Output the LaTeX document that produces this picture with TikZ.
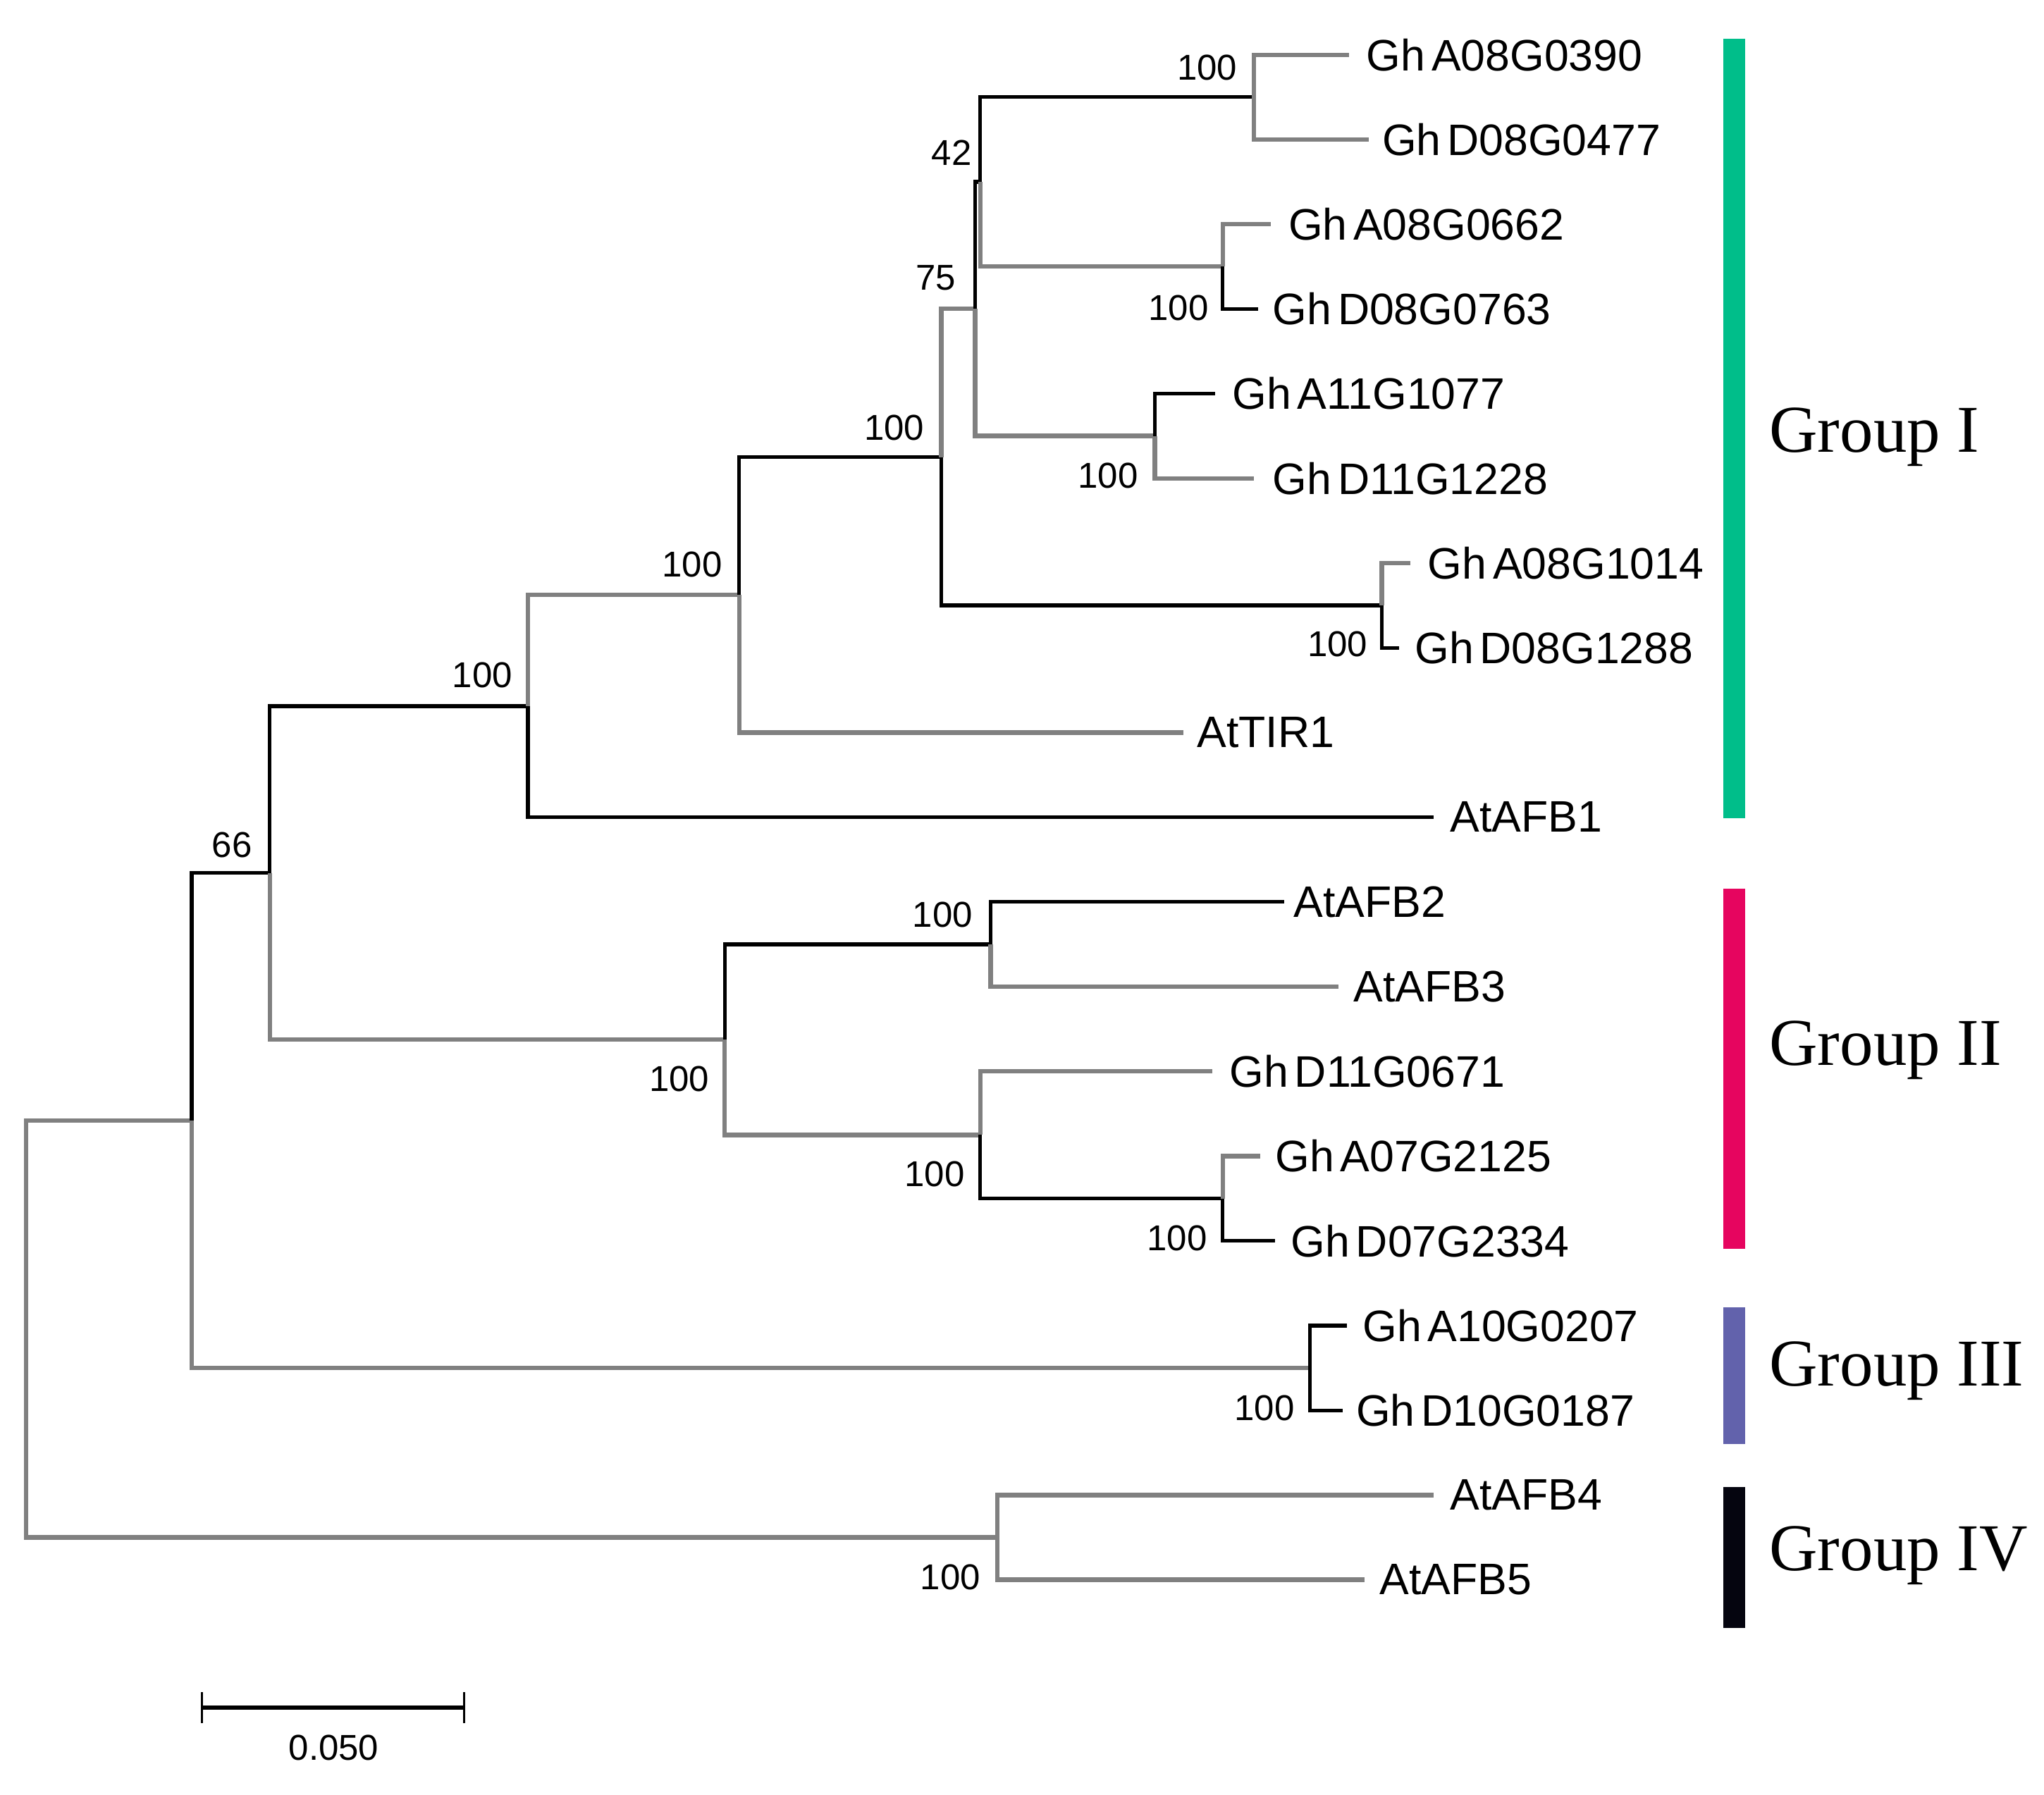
\documentclass[tikz,border=0pt]{standalone}
\usepackage{fontspec}
\setmainfont{Liberation Serif}
\newfontfamily\arialf{Liberation Sans}
\definecolor{gI}{RGB}{0,190,138}
\definecolor{gII}{RGB}{230,5,95}
\definecolor{gIII}{RGB}{98,98,172}
\definecolor{gIV}{RGB}{5,5,15}
\definecolor{brgray}{RGB}{128,128,128}
\newcommand\ghname[1]{Gh\kern0.14em #1}
\begin{document}
\begin{tikzpicture}[x=0.18495mm,y=-0.18495mm,
  blk/.style={draw=black,line width=1.5pt},
  gry/.style={draw=brgray,line width=1.8pt},
  leaf/.style={anchor=west,inner sep=0pt,font=\arialf\fontsize{17.8}{20}\selectfont},
  boot/.style={inner sep=0pt,font=\arialf\fontsize{14.5}{16}\selectfont},
  grp/.style={anchor=base west,inner sep=0pt,font=\fontsize{27}{30}\selectfont}]
\useasboundingbox (0,0) rectangle (1568,1377);

% internal nodes
\coordinate (root) at (20,1019.5);
\coordinate (nA) at (147,859.6);
\coordinate (nB) at (207,669.7);
\coordinate (nC) at (405,541.7);
\coordinate (nD) at (567,456.4);
\coordinate (nE) at (722,350.75);
\coordinate (n75) at (748,237);
\coordinate (n42) at (752,139.5);
\coordinate (n01) at (962,74.5);
\coordinate (n23) at (938,204.5);
\coordinate (n45) at (886,334.5);
\coordinate (n67) at (1060,464.5);
\coordinate (nG2) at (556,797.6);
\coordinate (n1011) at (760,724.5);
\coordinate (n12) at (752,870.75);
\coordinate (n1314) at (938,919.5);
\coordinate (n1516) at (1005,1049.5);
\coordinate (n1718) at (765,1179.5);

% leaf tips
\coordinate (t0) at (1035,42);
\coordinate (t1) at (1050,107);
\coordinate (t2) at (975,172);
\coordinate (t3) at (965,237);
\coordinate (t4) at (932,302);
\coordinate (t5) at (962,367);
\coordinate (t6) at (1082,432);
\coordinate (t7) at (1073,497);
\coordinate (t8) at (908,562);
\coordinate (t9) at (1100,627);
\coordinate (t10) at (985,692);
\coordinate (t11) at (1027,757);
\coordinate (t12) at (930,822);
\coordinate (t13) at (967,887);
\coordinate (t14) at (978,952);
\coordinate (t15) at (1033,1017);
\coordinate (t16) at (1030,1082);
\coordinate (t17) at (1100,1147);
\coordinate (t18) at (1047,1212);

% leaf labels
\node[leaf] (L0) at (1048,42) {\ghname{A08G0390}};
\node[leaf] (L1) at (1060,107) {\ghname{D08G0477}};
\node[leaf] (L2) at (988,172) {\ghname{A08G0662}};
\node[leaf] (L3) at (976,237) {\ghname{D08G0763}};
\node[leaf] (L4) at (945,302) {\ghname{A11G1077}};
\node[leaf] (L5) at (976,367) {\ghname{D11G1228}};
\node[leaf] (L6) at (1095,432) {\ghname{A08G1014}};
\node[leaf] (L7) at (1085,497) {\ghname{D08G1288}};
\node[leaf] (L8) at (918,562) {AtTIR1};
\node[leaf] (L9) at (1112,627) {AtAFB1};
\node[leaf] (L10) at (992,692) {AtAFB2};
\node[leaf] (L11) at (1038,757) {AtAFB3};
\node[leaf] (L12) at (943,822) {\ghname{D11G0671}};
\node[leaf] (L13) at (978,887) {\ghname{A07G2125}};
\node[leaf] (L14) at (990,952) {\ghname{D07G2334}};
\node[leaf] (L15) at (1045,1017) {\ghname{A10G0207}};
\node[leaf] (L16) at (1040,1082) {\ghname{D10G0187}};
\node[leaf] (L17) at (1112,1147) {AtAFB4};
\node[leaf] (L18) at (1058,1212) {AtAFB5};

% branches
\draw[gry] (root) |- (nA);
\draw[gry] (root) |- (n1718);
\draw[blk] (nA) |- (nB);
\draw[gry] (nA) |- (n1516);
\draw[blk] (nB) |- (nC);
\draw[gry] (nB) |- (nG2);
\draw[gry] (nC) |- (nD);
\draw[blk] (nC) |- (t9);
\draw[blk] (nD) |- (nE);
\draw[gry] (nD) |- (t8);
\draw[gry] (nE) |- (n75);
\draw[blk] (nE) |- (n67);
\draw[blk] (n75) |- (n42);
\draw[gry] (n75) |- (n45);
\draw[blk] (n42) |- (n01);
\draw[gry] (n42) |- (n23);
\draw[gry] (n01) |- (t0);
\draw[gry] (n01) |- (t1);
\draw[gry] (n23) |- (t2);
\draw[blk] (n23) |- (t3);
\draw[blk] (n45) |- (t4);
\draw[gry] (n45) |- (t5);
\draw[gry] (n67) |- (t6);
\draw[blk] (n67) |- (t7);
\draw[blk] (nG2) |- (n1011);
\draw[gry] (nG2) |- (n12);
\draw[blk] (n1011) |- (t10);
\draw[gry] (n1011) |- (t11);
\draw[gry] (n12) |- (t12);
\draw[blk] (n12) |- (n1314);
\draw[gry] (n1314) |- (t13);
\draw[blk] (n1314) |- (t14);
\draw[blk] (n1516) |- (t15);
\draw[blk] (n1516) |- (t16);
\draw[gry] (n1718) |- (t17);
\draw[gry] (n1718) |- (t18);

% bootstrap values
\node[boot] (b01) at (926,52) {100};
\node[boot] (b23) at (904,236) {100};
\node[boot] (b42) at (730,117) {42};
\node[boot] (b45) at (850,365) {100};
\node[boot] (b75) at (718,213) {75};
\node[boot] (b67) at (1026,494) {100};
\node[boot] (bE) at (686,328) {100};
\node[boot] (bD) at (531,433) {100};
\node[boot] (bC) at (370,518) {100};
\node[boot] (b1011) at (723,702) {100};
\node[boot] (b1314) at (903,950) {100};
\node[boot] (b12) at (717,901) {100};
\node[boot] (bG2) at (521,828) {100};
\node[boot] (bB) at (178,648) {66};
\node[boot] (b1516) at (970,1080) {100};
\node[boot] (b1718) at (729,1210) {100};

% group bars
\fill[gI] (1322,30) rectangle (1339,628);
\fill[gII] (1322,682) rectangle (1339,958);
\fill[gIII] (1322,1003) rectangle (1339,1108);
\fill[gIV] (1322,1141) rectangle (1339,1249);
\node[grp] (G1) at (1357,347) {Group I};
\node[grp] (G2) at (1357,817) {Group II};
\node[grp] (G3) at (1357,1063) {Group III};
\node[grp] (G4) at (1357,1205) {Group IV};

% scale bar
\coordinate (s1) at (155,1310);
\coordinate (s2) at (356,1310);
\draw[black,line width=1.8pt] (s1) -- (s2);
\draw[black,line width=1pt] ([yshift=-12*0.18495mm]s1) -- ([yshift=12*0.18495mm]s1);
\draw[black,line width=1pt] ([yshift=-12*0.18495mm]s2) -- ([yshift=12*0.18495mm]s2);
\node[boot] (sl) at (256,1341) {0.050};
\end{tikzpicture}
\end{document}
